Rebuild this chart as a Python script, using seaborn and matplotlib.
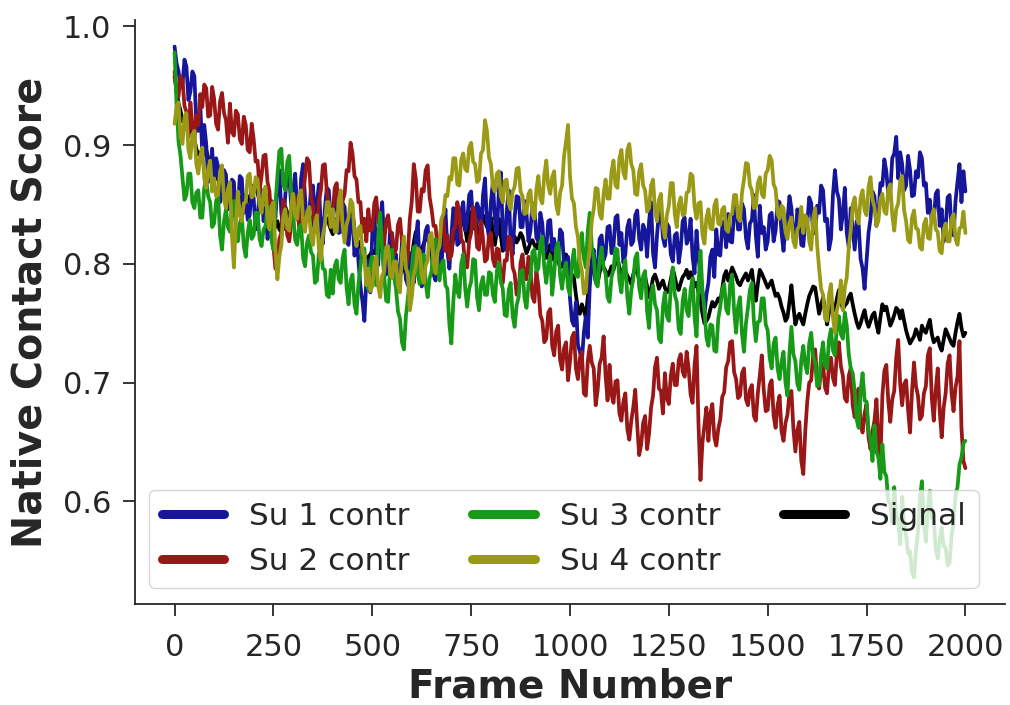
import pandas as pd
import matplotlib
matplotlib.use("Agg")
import matplotlib.pyplot as plt
import seaborn as sns

# Frame numbers (sampled every 5 frames)
frames = list(range(0, 2001, 5))

su1 = [
    0.983, 0.969, 0.962, 0.949, 0.951, 0.972, 0.966, 0.938, 0.945, 0.962, 0.958, 0.919, 0.912, 0.934, 0.893, 0.917, 0.901, 0.869, 0.874, 0.897,
    0.868, 0.889, 0.882, 0.852, 0.861, 0.879, 0.875, 0.846, 0.853, 0.871, 0.869, 0.838, 0.846, 0.874, 0.872, 0.843, 0.858, 0.837, 0.841, 0.866,
    0.855, 0.829, 0.838, 0.861, 0.862, 0.836, 0.847, 0.821, 0.829, 0.853, 0.851, 0.839, 0.866, 0.879, 0.843, 0.829, 0.858, 0.877, 0.874, 0.849,
    0.861, 0.876, 0.847, 0.833, 0.872, 0.884, 0.855, 0.836, 0.838, 0.864, 0.866, 0.839, 0.851, 0.867, 0.829, 0.817, 0.846, 0.864, 0.862, 0.838,
    0.838, 0.857, 0.853, 0.826, 0.827, 0.851, 0.848, 0.819, 0.816, 0.838, 0.839, 0.807, 0.824, 0.802, 0.781, 0.769, 0.752, 0.786, 0.803, 0.776,
    0.826, 0.843, 0.812, 0.799, 0.838, 0.852, 0.819, 0.791, 0.801, 0.827, 0.825, 0.798, 0.808, 0.779, 0.792, 0.818, 0.815, 0.787, 0.782, 0.809,
    0.803, 0.784, 0.821, 0.836, 0.797, 0.781, 0.814, 0.828, 0.832, 0.809, 0.808, 0.791, 0.786, 0.812, 0.818, 0.797, 0.829, 0.846, 0.811, 0.796,
    0.823, 0.847, 0.841, 0.816, 0.818, 0.844, 0.852, 0.828, 0.835, 0.858, 0.861, 0.834, 0.829, 0.851, 0.846, 0.823, 0.858, 0.872, 0.834, 0.822,
    0.852, 0.869, 0.838, 0.824, 0.861, 0.877, 0.827, 0.812, 0.845, 0.862, 0.818, 0.808, 0.839, 0.857, 0.856, 0.831, 0.831, 0.853, 0.842, 0.819,
    0.828, 0.851, 0.846, 0.822, 0.819, 0.843, 0.834, 0.809, 0.812, 0.836, 0.837, 0.811, 0.821, 0.804, 0.803, 0.829, 0.826, 0.799, 0.792, 0.806,
    0.771, 0.752, 0.748, 0.768, 0.732, 0.726, 0.718, 0.742, 0.756, 0.738, 0.781, 0.803, 0.812, 0.786, 0.797, 0.821, 0.824, 0.803, 0.808, 0.831,
    0.832, 0.809, 0.815, 0.839, 0.841, 0.816, 0.826, 0.801, 0.808, 0.831, 0.837, 0.816, 0.819, 0.841, 0.845, 0.821, 0.812, 0.833, 0.828, 0.806,
    0.836, 0.852, 0.809, 0.797, 0.824, 0.843, 0.847, 0.822, 0.815, 0.834, 0.831, 0.808, 0.802, 0.824, 0.826, 0.801, 0.813, 0.836, 0.839, 0.817,
    0.821, 0.838, 0.806, 0.792, 0.828, 0.804, 0.793, 0.776, 0.758, 0.774, 0.784, 0.806, 0.812, 0.789, 0.829, 0.808, 0.807, 0.831, 0.836, 0.814,
    0.842, 0.819, 0.818, 0.843, 0.851, 0.829, 0.829, 0.851, 0.846, 0.822, 0.813, 0.834, 0.837, 0.858, 0.824, 0.806, 0.849, 0.826, 0.831, 0.812,
    0.819, 0.841, 0.843, 0.819, 0.828, 0.853, 0.852, 0.826, 0.811, 0.832, 0.836, 0.857, 0.847, 0.822, 0.823, 0.846, 0.839, 0.816, 0.815, 0.836,
    0.834, 0.856, 0.851, 0.826, 0.826, 0.849, 0.843, 0.866, 0.862, 0.836, 0.838, 0.812, 0.821, 0.858, 0.879, 0.861, 0.855, 0.829, 0.842, 0.864,
    0.826, 0.814, 0.847, 0.829, 0.812, 0.836, 0.833, 0.804, 0.796, 0.779, 0.802, 0.826, 0.838, 0.861, 0.857, 0.832, 0.842, 0.868, 0.866, 0.888,
    0.878, 0.858, 0.861, 0.889, 0.893, 0.907, 0.872, 0.894, 0.884, 0.862, 0.866, 0.891, 0.879, 0.857, 0.858, 0.878, 0.873, 0.894, 0.889, 0.866,
    0.868, 0.843, 0.854, 0.835, 0.837, 0.859, 0.862, 0.832, 0.846, 0.819, 0.831, 0.856, 0.858, 0.829, 0.824, 0.853, 0.869, 0.884, 0.852, 0.878,
    0.861,
]

su2 = [
    0.962, 0.944, 0.941, 0.958, 0.955, 0.933, 0.928, 0.907, 0.936, 0.917, 0.904, 0.925, 0.917, 0.943, 0.932, 0.951, 0.948, 0.924, 0.925, 0.949,
    0.939, 0.918, 0.913, 0.937, 0.944, 0.927, 0.921, 0.902, 0.935, 0.911, 0.908, 0.929, 0.926, 0.905, 0.901, 0.924, 0.917, 0.896, 0.894, 0.918,
    0.905, 0.886, 0.887, 0.862, 0.874, 0.891, 0.892, 0.869, 0.861, 0.832, 0.815, 0.796, 0.798, 0.821, 0.826, 0.854, 0.843, 0.824, 0.819, 0.834,
    0.837, 0.856, 0.852, 0.831, 0.828, 0.859, 0.873, 0.889, 0.886, 0.857, 0.849, 0.828, 0.831, 0.853, 0.862, 0.883, 0.884, 0.861, 0.851, 0.831,
    0.842, 0.864, 0.868, 0.844, 0.837, 0.853, 0.859, 0.879, 0.878, 0.902, 0.893, 0.874, 0.871, 0.852, 0.852, 0.827, 0.838, 0.819, 0.846, 0.828,
    0.829, 0.851, 0.856, 0.835, 0.833, 0.814, 0.817, 0.836, 0.841, 0.827, 0.826, 0.808, 0.812, 0.833, 0.838, 0.819, 0.821, 0.796, 0.809, 0.838,
    0.853, 0.884, 0.872, 0.844, 0.844, 0.863, 0.861, 0.879, 0.883, 0.856, 0.846, 0.832, 0.832, 0.814, 0.815, 0.836, 0.838, 0.811, 0.824, 0.804,
    0.807, 0.829, 0.831, 0.852, 0.843, 0.821, 0.818, 0.798, 0.797, 0.819, 0.826, 0.848, 0.839, 0.814, 0.812, 0.836, 0.821, 0.802, 0.804, 0.824,
    0.826, 0.804, 0.798, 0.813, 0.812, 0.787, 0.784, 0.803, 0.803, 0.823, 0.821, 0.797, 0.792, 0.774, 0.776, 0.801, 0.808, 0.789, 0.787, 0.806,
    0.795, 0.772, 0.768, 0.794, 0.781, 0.757, 0.752, 0.734, 0.737, 0.759, 0.762, 0.731, 0.723, 0.743, 0.748, 0.719, 0.711, 0.729, 0.734, 0.702,
    0.718, 0.738, 0.742, 0.712, 0.703, 0.721, 0.726, 0.691, 0.689, 0.718, 0.731, 0.717, 0.712, 0.681, 0.694, 0.716, 0.721, 0.739, 0.706, 0.685,
    0.715, 0.690, 0.683, 0.701, 0.702, 0.674, 0.668, 0.684, 0.691, 0.661, 0.652, 0.668, 0.679, 0.694, 0.664, 0.639, 0.648, 0.666, 0.672, 0.644,
    0.657, 0.679, 0.689, 0.713, 0.721, 0.695, 0.693, 0.674, 0.708, 0.687, 0.682, 0.706, 0.716, 0.698, 0.698, 0.719, 0.724, 0.709, 0.705, 0.726,
    0.712, 0.690, 0.683, 0.715, 0.731, 0.665, 0.618, 0.650, 0.664, 0.679, 0.651, 0.674, 0.682, 0.654, 0.647, 0.661, 0.669, 0.688, 0.692, 0.713,
    0.718, 0.734, 0.735, 0.709, 0.703, 0.687, 0.689, 0.708, 0.712, 0.686, 0.681, 0.694, 0.698, 0.672, 0.668, 0.691, 0.706, 0.723, 0.694, 0.676,
    0.677, 0.698, 0.702, 0.672, 0.662, 0.681, 0.689, 0.659, 0.651, 0.666, 0.673, 0.691, 0.693, 0.661, 0.642, 0.660, 0.667, 0.634, 0.623, 0.659,
    0.684, 0.700, 0.702, 0.724, 0.728, 0.702, 0.695, 0.711, 0.716, 0.696, 0.691, 0.715, 0.721, 0.704, 0.698, 0.726, 0.734, 0.714, 0.706, 0.687,
    0.684, 0.706, 0.712, 0.681, 0.671, 0.690, 0.695, 0.665, 0.658, 0.674, 0.682, 0.654, 0.644, 0.659, 0.668, 0.686, 0.652, 0.634, 0.689, 0.710,
    0.715, 0.684, 0.667, 0.686, 0.693, 0.721, 0.736, 0.699, 0.681, 0.699, 0.702, 0.677, 0.658, 0.693, 0.717, 0.697, 0.689, 0.669, 0.672, 0.691,
    0.697, 0.723, 0.729, 0.687, 0.668, 0.694, 0.712, 0.676, 0.654, 0.679, 0.691, 0.716, 0.723, 0.691, 0.676, 0.696, 0.705, 0.735, 0.662, 0.634,
    0.628,
]

su3 = [
    0.978, 0.934, 0.903, 0.891, 0.872, 0.854, 0.858, 0.876, 0.876, 0.852, 0.847, 0.860, 0.862, 0.839, 0.839, 0.864, 0.871, 0.857, 0.852, 0.831,
    0.834, 0.853, 0.858, 0.824, 0.812, 0.836, 0.846, 0.831, 0.827, 0.848, 0.853, 0.829, 0.819, 0.834, 0.841, 0.815, 0.806, 0.826, 0.837, 0.821,
    0.824, 0.843, 0.843, 0.821, 0.815, 0.829, 0.832, 0.848, 0.848, 0.820, 0.812, 0.850, 0.874, 0.895, 0.897, 0.867, 0.862, 0.886, 0.891, 0.859,
    0.842, 0.820, 0.816, 0.831, 0.833, 0.805, 0.798, 0.818, 0.824, 0.810, 0.807, 0.784, 0.786, 0.809, 0.812, 0.796, 0.795, 0.774, 0.772, 0.795,
    0.775, 0.798, 0.803, 0.787, 0.784, 0.805, 0.812, 0.780, 0.766, 0.786, 0.791, 0.766, 0.758, 0.783, 0.797, 0.813, 0.813, 0.787, 0.779, 0.799,
    0.806, 0.787, 0.782, 0.823, 0.843, 0.810, 0.791, 0.769, 0.768, 0.796, 0.812, 0.789, 0.779, 0.760, 0.754, 0.734, 0.728, 0.756, 0.771, 0.790,
    0.796, 0.814, 0.815, 0.791, 0.783, 0.801, 0.808, 0.784, 0.772, 0.788, 0.794, 0.816, 0.821, 0.795, 0.786, 0.800, 0.803, 0.782, 0.779, 0.749,
    0.733, 0.769, 0.791, 0.777, 0.772, 0.800, 0.808, 0.779, 0.764, 0.779, 0.785, 0.804, 0.803, 0.772, 0.761, 0.783, 0.789, 0.774, 0.774, 0.793,
    0.792, 0.774, 0.768, 0.794, 0.801, 0.785, 0.779, 0.757, 0.756, 0.778, 0.784, 0.756, 0.747, 0.765, 0.772, 0.793, 0.795, 0.771, 0.763, 0.783,
    0.788, 0.810, 0.812, 0.794, 0.796, 0.818, 0.823, 0.797, 0.784, 0.800, 0.807, 0.774, 0.792, 0.813, 0.818, 0.790, 0.779, 0.795, 0.801, 0.780,
    0.774, 0.801, 0.812, 0.791, 0.789, 0.815, 0.826, 0.805, 0.797, 0.828, 0.843, 0.815, 0.805, 0.784, 0.781, 0.804, 0.814, 0.796, 0.792, 0.772,
    0.768, 0.789, 0.795, 0.813, 0.812, 0.786, 0.776, 0.796, 0.803, 0.772, 0.758, 0.778, 0.787, 0.805, 0.809, 0.780, 0.771, 0.790, 0.794, 0.760,
    0.746, 0.775, 0.782, 0.766, 0.761, 0.737, 0.734, 0.764, 0.776, 0.756, 0.752, 0.781, 0.797, 0.774, 0.768, 0.745, 0.741, 0.769, 0.779, 0.761,
    0.756, 0.778, 0.788, 0.755, 0.739, 0.783, 0.811, 0.777, 0.762, 0.738, 0.731, 0.749, 0.748, 0.727, 0.726, 0.754, 0.764, 0.778, 0.783, 0.762,
    0.758, 0.783, 0.791, 0.761, 0.742, 0.764, 0.772, 0.741, 0.726, 0.750, 0.763, 0.778, 0.784, 0.752, 0.735, 0.751, 0.752, 0.771, 0.771, 0.749,
    0.744, 0.721, 0.712, 0.733, 0.738, 0.712, 0.703, 0.718, 0.726, 0.700, 0.689, 0.725, 0.747, 0.724, 0.718, 0.699, 0.694, 0.719, 0.731, 0.715,
    0.708, 0.733, 0.742, 0.722, 0.717, 0.697, 0.698, 0.723, 0.734, 0.714, 0.712, 0.736, 0.745, 0.727, 0.723, 0.748, 0.756, 0.741, 0.737, 0.759,
    0.748, 0.724, 0.712, 0.708, 0.693, 0.669, 0.662, 0.694, 0.708, 0.685, 0.684, 0.660, 0.652, 0.634, 0.664, 0.642, 0.637, 0.619, 0.648, 0.625,
    0.621, 0.600, 0.598, 0.582, 0.612, 0.589, 0.583, 0.564, 0.604, 0.581, 0.571, 0.556, 0.558, 0.540, 0.536, 0.559, 0.574, 0.603, 0.617, 0.582,
    0.566, 0.594, 0.609, 0.586, 0.584, 0.560, 0.552, 0.568, 0.578, 0.562, 0.561, 0.546, 0.548, 0.571, 0.583, 0.605, 0.612, 0.631, 0.637, 0.649,
    0.651,
]

su4 = [
    0.918, 0.933, 0.936, 0.907, 0.901, 0.924, 0.927, 0.896, 0.889, 0.909, 0.912, 0.884, 0.876, 0.891, 0.898, 0.872, 0.864, 0.880, 0.887, 0.861,
    0.872, 0.857, 0.858, 0.878, 0.883, 0.854, 0.847, 0.863, 0.869, 0.824, 0.797, 0.835, 0.861, 0.841, 0.836, 0.851, 0.852, 0.874, 0.876, 0.856,
    0.858, 0.873, 0.871, 0.850, 0.843, 0.861, 0.865, 0.839, 0.829, 0.848, 0.852, 0.811, 0.787, 0.806, 0.816, 0.840, 0.846, 0.830, 0.828, 0.851,
    0.859, 0.840, 0.838, 0.858, 0.862, 0.836, 0.827, 0.843, 0.848, 0.822, 0.816, 0.835, 0.841, 0.812, 0.803, 0.824, 0.833, 0.852, 0.852, 0.831,
    0.846, 0.827, 0.827, 0.853, 0.862, 0.832, 0.818, 0.833, 0.839, 0.854, 0.851, 0.825, 0.815, 0.830, 0.832, 0.811, 0.807, 0.782, 0.796, 0.777,
    0.781, 0.800, 0.806, 0.781, 0.772, 0.790, 0.794, 0.814, 0.815, 0.792, 0.788, 0.802, 0.802, 0.782, 0.776, 0.808, 0.823, 0.797, 0.791, 0.761,
    0.772, 0.791, 0.798, 0.813, 0.811, 0.790, 0.784, 0.799, 0.803, 0.824, 0.826, 0.801, 0.792, 0.810, 0.815, 0.838, 0.842, 0.858, 0.857, 0.873,
    0.871, 0.889, 0.889, 0.867, 0.866, 0.888, 0.893, 0.880, 0.878, 0.898, 0.902, 0.886, 0.884, 0.869, 0.871, 0.893, 0.896, 0.921, 0.912, 0.890,
    0.884, 0.865, 0.861, 0.876, 0.878, 0.857, 0.852, 0.870, 0.871, 0.851, 0.846, 0.861, 0.865, 0.880, 0.881, 0.861, 0.857, 0.842, 0.843, 0.859,
    0.862, 0.842, 0.838, 0.863, 0.874, 0.855, 0.851, 0.875, 0.887, 0.866, 0.859, 0.873, 0.878, 0.850, 0.842, 0.860, 0.866, 0.891, 0.903, 0.917,
    0.874, 0.855, 0.851, 0.831, 0.823, 0.802, 0.794, 0.775, 0.776, 0.800, 0.812, 0.836, 0.846, 0.864, 0.863, 0.842, 0.838, 0.859, 0.871, 0.855,
    0.855, 0.878, 0.887, 0.866, 0.864, 0.889, 0.896, 0.877, 0.872, 0.896, 0.901, 0.884, 0.879, 0.859, 0.858, 0.878, 0.884, 0.866, 0.862, 0.844,
    0.847, 0.866, 0.871, 0.845, 0.836, 0.854, 0.859, 0.831, 0.822, 0.841, 0.849, 0.868, 0.868, 0.842, 0.831, 0.850, 0.856, 0.841, 0.842, 0.860,
    0.861, 0.876, 0.874, 0.848, 0.838, 0.851, 0.852, 0.824, 0.817, 0.839, 0.846, 0.830, 0.829, 0.849, 0.854, 0.834, 0.833, 0.846, 0.848, 0.829,
    0.827, 0.841, 0.842, 0.858, 0.858, 0.839, 0.836, 0.860, 0.871, 0.885, 0.884, 0.866, 0.862, 0.847, 0.848, 0.868, 0.873, 0.859, 0.856, 0.876,
    0.879, 0.891, 0.887, 0.867, 0.863, 0.842, 0.838, 0.849, 0.847, 0.827, 0.821, 0.835, 0.839, 0.819, 0.814, 0.829, 0.832, 0.848, 0.826, 0.841,
    0.838, 0.819, 0.812, 0.838, 0.847, 0.816, 0.796, 0.779, 0.774, 0.754, 0.752, 0.774, 0.783, 0.755, 0.742, 0.761, 0.768, 0.786, 0.761, 0.780,
    0.789, 0.814, 0.828, 0.850, 0.856, 0.840, 0.834, 0.856, 0.862, 0.845, 0.841, 0.865, 0.873, 0.854, 0.848, 0.832, 0.836, 0.855, 0.859, 0.844,
    0.842, 0.863, 0.867, 0.841, 0.828, 0.846, 0.851, 0.870, 0.874, 0.845, 0.836, 0.820, 0.818, 0.839, 0.845, 0.830, 0.829, 0.814, 0.812, 0.833,
    0.838, 0.822, 0.821, 0.841, 0.846, 0.829, 0.827, 0.811, 0.809, 0.829, 0.834, 0.819, 0.819, 0.838, 0.842, 0.821, 0.816, 0.830, 0.831, 0.844,
    0.826,
]

signal = [
    0.958, 0.946, 0.935, 0.929, 0.920, 0.923, 0.920, 0.914, 0.912, 0.910, 0.905, 0.897, 0.892, 0.894, 0.890, 0.893, 0.896, 0.889, 0.885, 0.882,
    0.878, 0.873, 0.871, 0.875, 0.873, 0.869, 0.868, 0.862, 0.865, 0.854, 0.845, 0.852, 0.859, 0.855, 0.851, 0.846, 0.848, 0.854, 0.857, 0.859,
    0.861, 0.863, 0.860, 0.852, 0.848, 0.853, 0.859, 0.849, 0.840, 0.834, 0.836, 0.831, 0.836, 0.829, 0.827, 0.838, 0.848, 0.843, 0.840, 0.846,
    0.850, 0.843, 0.838, 0.845, 0.849, 0.842, 0.838, 0.841, 0.843, 0.837, 0.835, 0.829, 0.827, 0.831, 0.828, 0.836, 0.840, 0.838, 0.834, 0.829,
    0.825, 0.833, 0.838, 0.831, 0.828, 0.830, 0.834, 0.829, 0.825, 0.836, 0.844, 0.829, 0.817, 0.819, 0.816, 0.808, 0.803, 0.801, 0.806, 0.808,
    0.811, 0.809, 0.814, 0.819, 0.822, 0.811, 0.805, 0.802, 0.806, 0.810, 0.813, 0.805, 0.800, 0.794, 0.790, 0.795, 0.797, 0.791, 0.788, 0.795,
    0.806, 0.818, 0.827, 0.816, 0.809, 0.812, 0.817, 0.821, 0.823, 0.820, 0.818, 0.811, 0.808, 0.806, 0.809, 0.820, 0.828, 0.822, 0.818, 0.814,
    0.809, 0.822, 0.838, 0.831, 0.825, 0.834, 0.843, 0.830, 0.819, 0.832, 0.844, 0.841, 0.839, 0.829, 0.823, 0.833, 0.841, 0.836, 0.831, 0.836,
    0.839, 0.827, 0.816, 0.828, 0.838, 0.824, 0.811, 0.815, 0.819, 0.822, 0.817, 0.820, 0.823, 0.818, 0.821, 0.826, 0.823, 0.815, 0.809, 0.813,
    0.818, 0.820, 0.816, 0.813, 0.818, 0.821, 0.815, 0.809, 0.805, 0.811, 0.816, 0.809, 0.803, 0.806, 0.803, 0.797, 0.798, 0.804, 0.808, 0.796,
    0.784, 0.791, 0.788, 0.774, 0.762, 0.758, 0.766, 0.761, 0.755, 0.772, 0.792, 0.799, 0.794, 0.786, 0.784, 0.793, 0.799, 0.797, 0.794, 0.790,
    0.793, 0.798, 0.795, 0.801, 0.805, 0.797, 0.792, 0.789, 0.794, 0.790, 0.787, 0.783, 0.791, 0.797, 0.794, 0.786, 0.779, 0.784, 0.789, 0.781,
    0.772, 0.779, 0.788, 0.791, 0.786, 0.779, 0.783, 0.786, 0.780, 0.776, 0.779, 0.787, 0.796, 0.789, 0.781, 0.778, 0.784, 0.789, 0.791, 0.795,
    0.788, 0.793, 0.788, 0.781, 0.784, 0.776, 0.769, 0.758, 0.750, 0.752, 0.755, 0.762, 0.768, 0.764, 0.767, 0.771, 0.768, 0.779, 0.790, 0.794,
    0.786, 0.791, 0.797, 0.793, 0.789, 0.784, 0.782, 0.786, 0.789, 0.792, 0.786, 0.790, 0.795, 0.781, 0.769, 0.783, 0.795, 0.792, 0.788, 0.784,
    0.780, 0.783, 0.786, 0.779, 0.773, 0.775, 0.771, 0.764, 0.759, 0.752, 0.755, 0.768, 0.782, 0.764, 0.749, 0.755, 0.758, 0.753, 0.749, 0.758,
    0.766, 0.773, 0.777, 0.781, 0.780, 0.769, 0.758, 0.765, 0.772, 0.761, 0.749, 0.759, 0.768, 0.764, 0.761, 0.771, 0.778, 0.769, 0.762, 0.765,
    0.767, 0.772, 0.775, 0.766, 0.758, 0.751, 0.746, 0.750, 0.756, 0.761, 0.752, 0.747, 0.752, 0.757, 0.759, 0.749, 0.742, 0.755, 0.766, 0.761,
    0.764, 0.756, 0.748, 0.752, 0.757, 0.763, 0.761, 0.754, 0.761, 0.752, 0.744, 0.738, 0.733, 0.736, 0.739, 0.745, 0.741, 0.736, 0.748, 0.744,
    0.742, 0.748, 0.753, 0.741, 0.734, 0.736, 0.738, 0.731, 0.727, 0.736, 0.745, 0.741, 0.737, 0.733, 0.731, 0.742, 0.751, 0.758, 0.746, 0.739,
    0.742,
]

for s in (su1, su2, su3, su4, signal):
    assert len(s) == len(frames), len(s)

labels = ["Su 1 contr", "Su 2 contr", "Su 3 contr", "Su 4 contr", "Signal"]
colors = ["#16169a", "#9a1717", "#179a17", "#9a9a17", "#000000"]
xticks = [0, 250, 500, 750, 1000, 1250, 1500, 1750, 2000]
yticks = [0.6, 0.7, 0.8, 0.9, 1.0]

sns.set_theme(style="ticks")
plt.rcParams["font.family"] = ["DejaVu Sans"]

fig = plt.figure(figsize=(10.1, 7.05), dpi=100)
ax = fig.add_axes([0.1337, 0.1433, 0.8613, 0.8283])

all_series = [su1, su2, su3, su4, signal]
handles = {}
# draw the Signal first so the subunit traces lie on top of it
for idx in [4, 0, 1, 2, 3]:
    df = pd.DataFrame({"Frame": frames, "Score": all_series[idx]})
    sns.lineplot(data=df, x="Frame", y="Score", color=colors[idx], lw=2.7,
                 ax=ax, label=labels[idx], legend=False)
    handles[idx] = ax.lines[-1]

ax.set_xticks(xticks)
ax.set_yticks(yticks)
ax.set_xticklabels([str(t) for t in xticks])
ax.set_yticklabels([f"{t:.1f}" for t in yticks])
ax.tick_params(axis="both", labelsize=22, length=8.6, width=1.3, colors="#262626")
ax.tick_params(axis="x", pad=12)
ax.tick_params(axis="y", pad=8.5)
ax.set_xlabel("Frame Number", fontsize=28, fontweight="bold", color="#262626", labelpad=4)
ax.set_ylabel("Native Contact Score", fontsize=28.5, fontweight="bold", color="#262626", labelpad=9)
sns.despine(ax=ax)
for sp in ["left", "bottom"]:
    ax.spines[sp].set_linewidth(1.3)
    ax.spines[sp].set_color("#262626")

leg = ax.legend([handles[i] for i in range(5)], labels, loc="lower center",
                bbox_to_anchor=(0.493, 0.0), ncol=3, fontsize=22.5, framealpha=0.8)
for line in leg.get_lines():
    line.set_linewidth(6.5)
    line.set_solid_capstyle("round")

fig.savefig("out.png", dpi=100)
